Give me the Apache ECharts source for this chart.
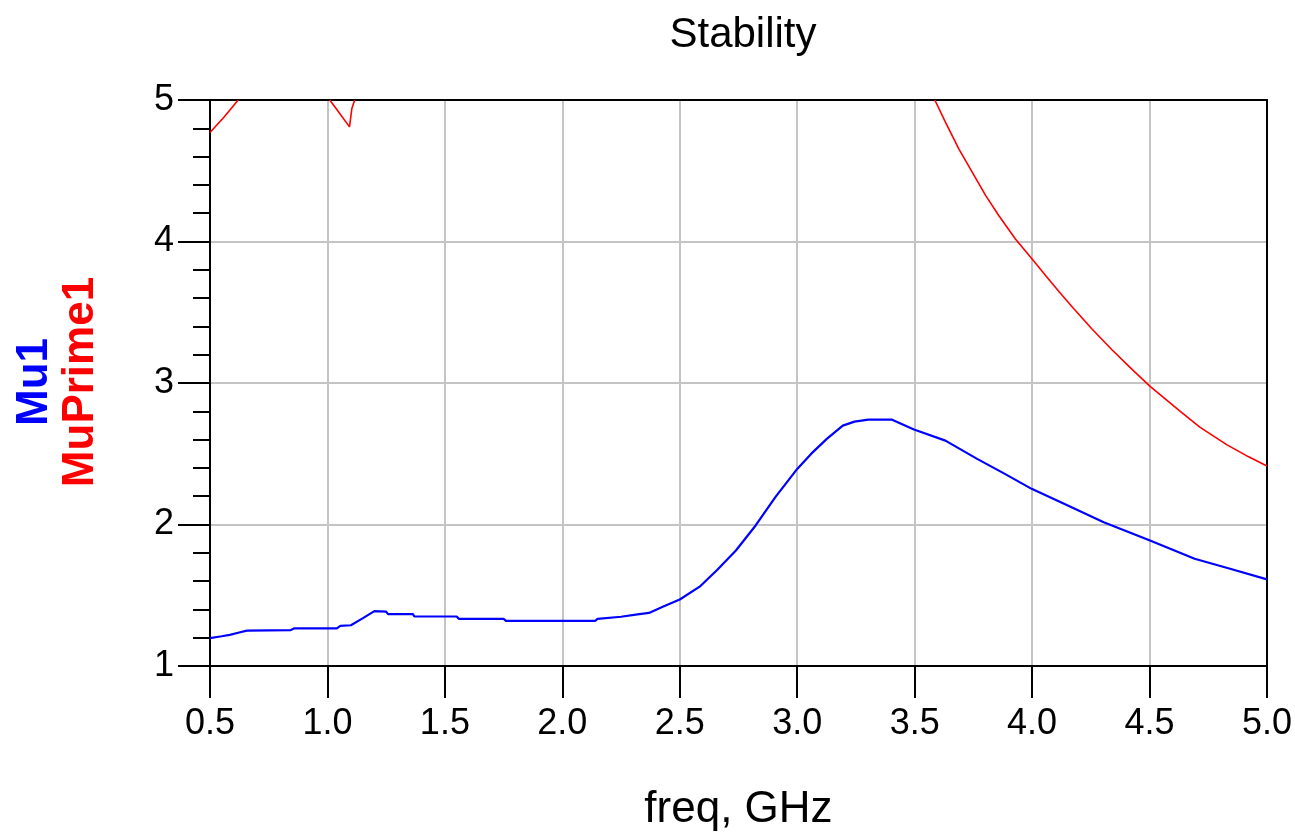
<!DOCTYPE html>
<html>
<head>
<meta charset="utf-8">
<title>Stability</title>
<script src="https://cdn.jsdelivr.net/npm/echarts@6/dist/echarts.min.js"></script>
<style>
  html, body { margin: 0; padding: 0; background: #fff; }
  #chart { width: 1295px; height: 837px; }
</style>
</head>
<body>
<div id="chart"></div>
<script>
  // Mu1 (blue)
  var muFreq = [0.5, 0.55, 0.584, 0.62, 0.657, 0.75, 0.844, 0.86, 1.04, 1.055, 1.10, 1.153, 1.20, 1.25, 1.258,
    1.364, 1.37, 1.55, 1.56, 1.75, 1.76, 2.14, 2.15, 2.25, 2.32, 2.369, 2.43, 2.5, 2.588, 2.66, 2.739, 2.823,
    2.907, 3.0, 3.059, 3.126, 3.194, 3.244, 3.303, 3.404, 3.497, 3.631, 3.766, 3.884, 3.998, 4.136, 4.305,
    4.502, 4.692, 4.843, 5.0];
  var muVal = [1.197, 1.21, 1.22, 1.235, 1.25, 1.252, 1.254, 1.266, 1.266, 1.283, 1.288, 1.34, 1.388, 1.384, 1.367,
    1.367, 1.35, 1.35, 1.333, 1.333, 1.319, 1.319, 1.333, 1.348, 1.365, 1.375, 1.42, 1.47, 1.565, 1.68, 1.816, 1.993,
    2.193, 2.393, 2.499, 2.605, 2.699, 2.727, 2.741, 2.741, 2.671, 2.593, 2.464, 2.358, 2.252, 2.146, 2.016,
    1.887, 1.758, 1.687, 1.612];

  // MuPrime1 (red); null = curve runs above the top of the plot
  var muPrimeFreq = [0.5, 0.56, 0.62, 0.8, 1.01, 1.05, 1.094, 1.104, 1.116, 2.0, 3.586, 3.631, 3.688, 3.745,
    3.802, 3.858, 3.929, 4.0, 4.06, 4.115, 4.172, 4.256, 4.34, 4.42, 4.5, 4.627, 4.714, 4.83, 4.92, 5.0];
  var muPrimeVal = [4.77, 4.88, 5.0, null, 5.0, 4.91, 4.81, 4.94, 5.0, null, 5.0, 4.844, 4.655, 4.49,
    4.326, 4.184, 4.018, 3.876, 3.755, 3.645, 3.535, 3.38, 3.235, 3.105, 2.98, 2.805, 2.688, 2.563, 2.48, 2.413];

  var xTicks = ['0.5', '1.0', '1.5', '2.0', '2.5', '3.0', '3.5', '4.0', '4.5', '5.0'];

  function pairs(xs, ys){
    return xs.map(function(x, i){ return [x, ys[i] == null ? '-' : ys[i]] })
  }

  var font = 'Liberation Sans, Arial, sans-serif'
  var myChart = echarts.init(document.getElementById('chart'))
  var option = {
    backgroundColor: '#fff',
    animation: false,
    title: {
      text: 'Stability',
      left: 738,
      top: 9,
      textAlign: 'center',
      textStyle: { color: '#000', fontSize: 42, fontWeight: 'normal', fontFamily: font }
    },
    grid: { left: 210, right: 28, top: 100, bottom: 169 },
    xAxis: [
      {
        type: 'value',
        min: 0.5,
        max: 5,
        interval: 0.5,
        name: 'freq, GHz',
        nameLocation: 'middle',
        nameGap: 122,
        nameTextStyle: { color: '#000', fontSize: 44, fontFamily: font },
        axisLine: { lineStyle: { color: '#000', width: 2 } },
        axisTick: { show: true, length: 32, lineStyle: { color: '#000', width: 2 } },
        axisLabel: {
          color: '#000', fontSize: 36, fontFamily: font, margin: 40,
          formatter: function(v){ return xTicks[Math.round((v - 0.5) / 0.5)] }
        },
        splitLine: { show: true, lineStyle: { color: '#c4c4c4', width: 2 } }
      },
      {
        type: 'value',
        position: 'top',
        min: 0.5,
        max: 5,
        axisLine: { show: true, lineStyle: { color: '#000', width: 2 } },
        axisTick: { show: false },
        axisLabel: { show: false },
        splitLine: { show: false }
      }
    ],
    yAxis: [
      {
        type: 'value',
        min: 1,
        max: 5,
        interval: 1,
        axisLine: { show: true, lineStyle: { color: '#000', width: 2 } },
        axisTick: { show: true, length: 32, lineStyle: { color: '#000', width: 2 } },
        minorTick: { show: true, splitNumber: 5, length: 17, lineStyle: { color: '#000', width: 2 } },
        axisLabel: { color: '#000', fontSize: 36, fontFamily: font, margin: 36 },
        splitLine: { show: true, lineStyle: { color: '#c4c4c4', width: 2 } }
      },
      {
        type: 'value',
        position: 'right',
        min: 1,
        max: 5,
        axisLine: { show: true, lineStyle: { color: '#000', width: 2 } },
        axisTick: { show: false },
        axisLabel: { show: false },
        splitLine: { show: false }
      }
    ],
    graphic: [
      {
        type: 'text', x: 35, y: 382, rotation: Math.PI / 2,
        style: { text: 'Mu1', fill: '#0000ff', font: 'bold 44px ' + font, align: 'center', verticalAlign: 'middle' }
      },
      {
        type: 'text', x: 81, y: 382, rotation: Math.PI / 2,
        style: { text: 'MuPrime1', fill: '#ff0000', font: 'bold 44px ' + font, align: 'center', verticalAlign: 'middle' }
      }
    ],
    series: [
      {
        name: 'Mu1',
        type: 'line',
        data: pairs(muFreq, muVal),
        showSymbol: false,
        clip: true,
        lineStyle: { color: '#0000ff', width: 2.2 },
        itemStyle: { color: '#0000ff' }
      },
      {
        name: 'MuPrime1',
        type: 'line',
        data: pairs(muPrimeFreq, muPrimeVal),
        showSymbol: false,
        connectNulls: false,
        clip: true,
        lineStyle: { color: '#ff0000', width: 1.6 },
        itemStyle: { color: '#ff0000' }
      }
    ]
  }
  myChart.setOption(option)
</script>
</body>
</html>
